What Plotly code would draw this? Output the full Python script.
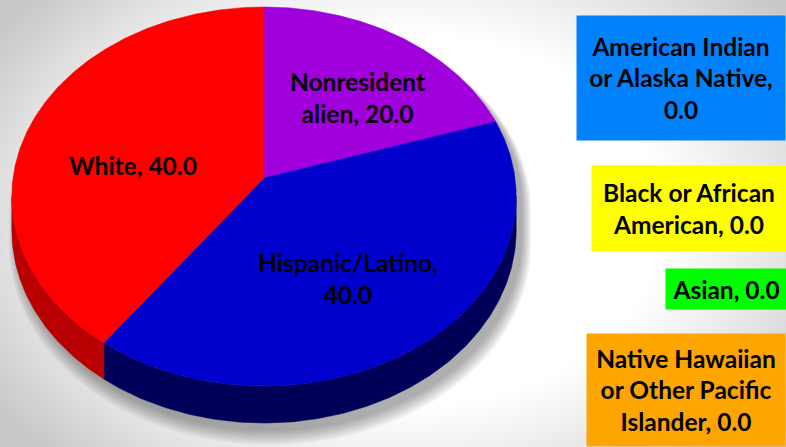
import math
import plotly.graph_objects as go

# ---- data ----
categories = ["Nonresident alien", "Hispanic/Latino", "White",
              "American Indian or Alaska Native", "Black or African American",
              "Asian", "Native Hawaiian or Other Pacific Islander"]
values = [20.0, 40.0, 40.0, 0.0, 0.0, 0.0, 0.0]
label_text = ["Nonresident<br>alien, 20.0", "Hispanic/Latino,<br>40.0", "White, 40.0",
              "American Indian<br>or Alaska Native,<br>0.0", "Black or African<br>American, 0.0",
              "Asian, 0.0", "Native Hawaiian<br>or Other Pacific<br>Islander, 0.0"]
colors = ["#A000DC", "#0000CC", "#FF0000", "#0082FF", "#FFFF00", "#00FF00", "#FFA500"]
side_colors = ["#55007A", "#000058", "#B80000", "#004488", "#888800", "#008800", "#885500"]

# ---- 3D projection of the pie disc ----
W, H = 786, 447
cx, cy = 264, 178
A, B = 251, 187.7
k = 0.0976
D = 37

def proj(theta, rho=1.0, drop=0.0):
    t = math.radians(theta)
    xd, zd = rho * math.sin(t), rho * math.cos(t)
    s = 1.0 / (1.0 + k * zd)
    return cx + A * xd * s, cy - B * zd * s + drop * (1 - k) * s

def arc(a1, a2, drop=0.0, n=None):
    n = n or max(8, int(abs(a2 - a1) * 1.5))
    pts = [proj(a1 + (a2 - a1) * i / n, 1.0, drop) for i in range(n + 1)]
    return [p[0] for p in pts], [p[1] for p in pts]

fig = go.Figure()

# background radial gradient
fig.add_trace(go.Scatter(
    x=[-80, 880, 880, -80, -80], y=[-120, -120, 560, 560, -120],
    mode="lines", line=dict(width=0), fill="toself",
    fillgradient=dict(type="radial",
                      colorscale=[[0, "#FFFFFF"], [0.55, "#FFFFFF"], [0.8, "#E4E4E4"], [1, "#C8C8C8"]]),
    hoverinfo="skip", showlegend=False))

sil1 = math.degrees(math.acos(-k))
sil2 = 360 - sil1

# shadow
ox, oy = arc(sil2, sil1 + 360)
bx, by = arc(sil1, sil2, drop=D)
outline_x = ox + bx
outline_y = oy + by
for i in range(10):
    sc = 1.0 + 0.004 * i
    sx = [cx + (x - cx) * sc + 6 for x in outline_x]
    sy = [cy + (y - cy) * sc + 8 + i * 0.6 for y in outline_y]
    fig.add_trace(go.Scatter(x=sx + [sx[0]], y=sy + [sy[0]], mode="lines", line=dict(width=0),
                             fill="toself", fillcolor="rgba(0,0,0,0.035)",
                             hoverinfo="skip", showlegend=False))

total = sum(values)
start = 0.0
slices = []
for cat, v, col, scol in zip(categories, values, colors, side_colors):
    if v <= 0:
        continue
    a1 = start
    a2 = start + 360.0 * v / total
    slices.append((a1, a2, col, scol))
    start = a2

# sides
for a1, a2, col, scol in slices:
    lo, hi = max(a1, sil1), min(a2, sil2)
    if hi <= lo:
        continue
    tx, ty = arc(lo, hi)
    dx, dy = arc(hi, lo, drop=D)
    fig.add_trace(go.Scatter(x=tx + dx + [tx[0]], y=ty + dy + [ty[0]], mode="lines",
                             line=dict(width=0.5, color=scol), fill="toself", fillcolor=scol,
                             hoverinfo="skip", showlegend=False))

# top faces
for a1, a2, col, scol in slices:
    tx, ty = arc(a1, a2)
    fig.add_trace(go.Scatter(x=[cx] + tx + [cx], y=[cy] + ty + [cy], mode="lines",
                             line=dict(width=0.5, color=col), fill="toself", fillcolor=col,
                             hoverinfo="skip", showlegend=False))

font = dict(family="Lato", size=24.5, color="black", weight="bold")
annotations = []
slice_label_pos = {"Nonresident alien": (357, 97), "Hispanic/Latino": (348, 278), "White": (133, 165)}
box_pos = {
    "American Indian or Alaska Native": (681, 78, 208, 124),
    "Black or African American": (689, 208.5, 194, 85),
    "Asian": (726, 289, 120, 40),
    "Native Hawaiian or Other Pacific Islander": (686, 390, 198, 112),
}
for cat, v, txt, col in zip(categories, values, label_text, colors):
    if v > 0:
        x, y = slice_label_pos[cat]
        annotations.append(dict(x=x, y=y, xref="x", yref="y", text=txt, showarrow=False,
                                font=font, align="center"))
    else:
        x, y, w, h = box_pos[cat]
        annotations.append(dict(x=x, y=y, xref="x", yref="y", text=txt, showarrow=False,
                                font=font, align="center", valign="middle",
                                bgcolor=col, width=w, height=h, borderpad=0))

fig.update_layout(
    width=W, height=H, margin=dict(l=0, r=0, t=0, b=0),
    paper_bgcolor="#FFFFFF", plot_bgcolor="rgba(0,0,0,0)",
    xaxis=dict(range=[0, W], visible=False, fixedrange=True),
    yaxis=dict(range=[H, 0], visible=False, fixedrange=True),
    annotations=annotations, showlegend=False,
)
fig.write_html(
    "out.html",
    config={"displayModeBar": False},
    post_script="document.body.style.margin='0';document.body.style.overflow='hidden';"
                "document.documentElement.style.overflow='hidden';",
)
